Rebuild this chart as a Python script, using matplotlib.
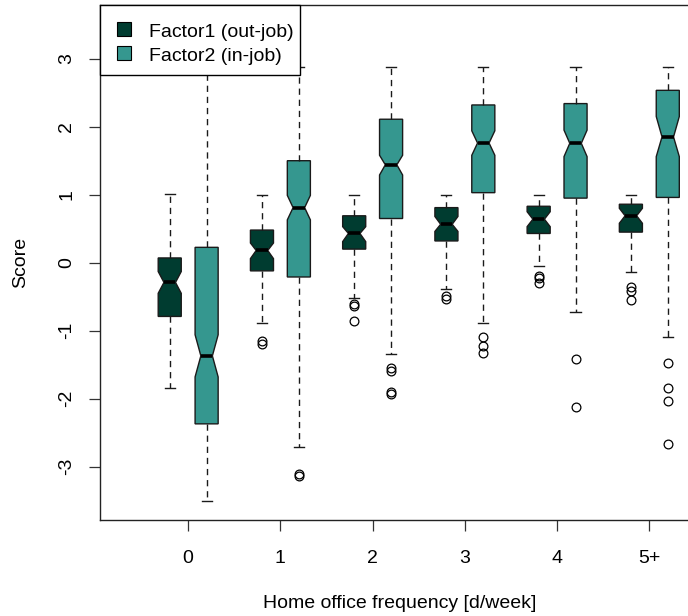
import matplotlib
matplotlib.use("Agg")
import matplotlib.pyplot as plt
from matplotlib.lines import Line2D
from matplotlib.patches import Rectangle

plt.rcParams['font.family'] = ['Liberation Sans', 'DejaVu Sans']
plt.rcParams['axes.unicode_minus'] = False

# Home office frequency groups
groups = ['0', '1', '2', '3', '4', '5+']

# Factor1 (out-job) box statistics per group
f1_q1 = [-0.79, -0.12, 0.20, 0.32, 0.43, 0.45]
f1_med = [-0.29, 0.18, 0.43, 0.565, 0.64, 0.69]
f1_q3 = [0.07, 0.48, 0.69, 0.81, 0.83, 0.86]
f1_lo = [-1.85, -0.89, -0.52, -0.38, -0.05, -0.13]
f1_hi = [1.01, 1.0, 1.0, 1.0, 1.0, 1.0]
f1_ci_lo = [-0.45, 0.06, 0.31, 0.46, 0.53, 0.58]
f1_ci_hi = [-0.13, 0.29, 0.53, 0.68, 0.75, 0.80]
f1_out = [[], [-1.15, -1.19], [-0.60, -0.63, -0.86], [-0.49, -0.53],
          [-0.19, -0.23, -0.30], [-0.35, -0.41, -0.55]]

# Factor2 (in-job) box statistics per group
f2_q1 = [-2.37, -0.21, 0.65, 1.03, 0.95, 0.96]
f2_med = [-1.37, 0.81, 1.44, 1.76, 1.756, 1.85]
f2_q3 = [0.226, 1.50, 2.11, 2.32, 2.34, 2.535]
f2_lo = [-3.50, -2.71, -1.35, -0.88, -0.73, -1.10]
f2_hi = [2.88, 2.88, 2.88, 2.88, 2.88, 2.88]
f2_ci_lo = [-1.68, 0.63, 1.29, 1.58, 1.56, 1.56]
f2_ci_hi = [-1.06, 0.99, 1.58, 1.94, 1.95, 2.15]
f2_out = [[], [-3.11, -3.14], [-1.55, -1.60, -1.90, -1.93], [-1.10, -1.22, -1.33],
          [-1.41, -2.12], [-1.47, -1.85, -2.04, -2.66]]

series_names = ['Factor1 (out-job)', 'Factor2 (in-job)']
colors = ['#003C30', '#35978F']

W, H = 688, 616
FS = 14
AX_L, AX_R, AX_T, AX_B = 100, 737.5, 5, 520
AX_W, AX_H = AX_R - AX_L, AX_B - AX_T
fig = plt.figure(figsize=(W / 100, H / 100), dpi=100)
ax = fig.add_axes([AX_L / W, (H - AX_B) / H, AX_W / W, AX_H / H])


def make_stats(q1, med, q3, lo, hi, cilo, cihi, out):
    return [dict(q1=a, med=b, q3=c, whislo=d, whishi=e, cilo=f, cihi=g, fliers=h)
            for a, b, c, d, e, f, g, h in zip(q1, med, q3, lo, hi, cilo, cihi, out)]


stats = [make_stats(f1_q1, f1_med, f1_q3, f1_lo, f1_hi, f1_ci_lo, f1_ci_hi, f1_out),
         make_stats(f2_q1, f2_med, f2_q3, f2_lo, f2_hi, f2_ci_lo, f2_ci_hi, f2_out)]
offsets = [-0.2, 0.2]
box_w = 0.25

for st, off, col in zip(stats, offsets, colors):
    pos = [i + off for i in range(len(groups))]
    ax.bxp(st, positions=pos, widths=box_w, shownotches=True, patch_artist=True,
           capwidths=0.11,
           boxprops=dict(facecolor=col, edgecolor='#1a1a1a', linewidth=1.0),
           medianprops=dict(color='black', linewidth=2.6, solid_capstyle='butt'),
           whiskerprops=dict(color='#1a1a1a', linewidth=1.0, linestyle=(0, (4.5, 3.5))),
           capprops=dict(color='#1a1a1a', linewidth=1.0),
           flierprops=dict(marker='o', markerfacecolor='none', markeredgecolor='black',
                           markersize=6.3, markeredgewidth=0.9, linestyle='none'),
           manage_ticks=False)

ax.set_xlim(-0.956, 5.956)
ax.set_ylim(-3.784, 3.79)

ax.set_xticks(range(len(groups)))
ax.set_xticklabels(groups, fontsize=FS)
yt = [-3, -2, -1, 0, 1, 2, 3]
ax.set_yticks(yt)
ax.set_yticklabels([str(v) for v in yt], fontsize=FS, rotation=90, va='center')
ax.tick_params(axis='x', length=8.2, width=0.9, pad=13.5, color='#333333')
ax.tick_params(axis='y', length=8.2, width=0.9, pad=9.5, color='#333333')
for s in ['left', 'bottom', 'top', 'right']:
    ax.spines[s].set_linewidth(1.0)
    ax.spines[s].set_color('#222222')

fig.text(21 / W, 1 - 262 / H, 'Score', rotation=90, ha='center', va='center', fontsize=FS)
fig.text(400 / W, 1 - 604 / H, 'Home office frequency [d/week]', ha='center', va='center',
         fontsize=FS)

# legend box in the top-left corner of the plot area
frame = Rectangle((0, 1 - 70 / AX_H), 200 / AX_W, 70 / AX_H, transform=ax.transAxes,
                  facecolor='white', edgecolor='black', linewidth=1.0, zorder=4.5,
                  clip_on=False)
ax.add_patch(frame)
handles = [Line2D([], [], marker='s', linestyle='none', markersize=9.6,
                  markerfacecolor=c, markeredgecolor='black', markeredgewidth=0.8)
           for c in colors]
leg = ax.legend(handles, series_names, loc='upper left',
                bbox_to_anchor=(17 / AX_W, 1 - 16.5 / AX_H),
                borderaxespad=0, borderpad=0, frameon=False,
                fontsize=FS, handlelength=0.72, handleheight=1.0, handletextpad=0.95,
                labelspacing=0.24)
leg.set_zorder(6)

fig.savefig('out.png', dpi=100)
